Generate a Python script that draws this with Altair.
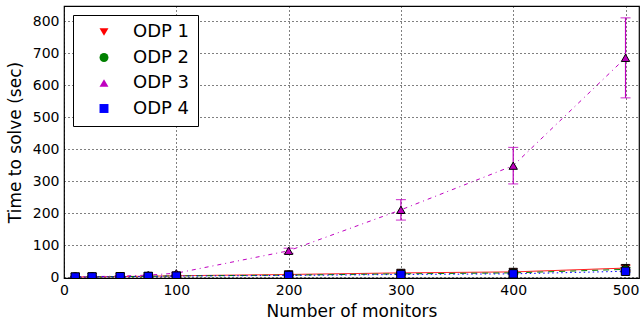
import altair as alt
import pandas as pd

monitors = [10, 25, 50, 75, 100, 200, 300, 400, 500]
series = ["ODP 1", "ODP 2", "ODP 3", "ODP 4"]
odp1 = [0.3, 0.7, 1.5, 2.5, 4.0, 8.0, 13.0, 16.0, 28.0]
odp1_err = [0.1, 0.2, 0.4, 0.6, 1.0, 1.5, 2.5, 3.0, 9.0]
odp2 = [0.3, 0.6, 1.3, 2.2, 3.5, 6.0, 10.0, 13.0, 24.0]
odp2_err = [0.1, 0.2, 0.3, 0.5, 0.8, 1.2, 2.0, 2.5, 6.0]
odp3 = [0.5, 1.2, 3.0, 6.0, 12.0, 82.0, 210.0, 348.0, 685.0]
odp3_err = [0.2, 0.5, 1.0, 2.0, 3.0, 8.0, 32.0, 57.0, 125.0]
odp4 = [0.2, 0.5, 1.0, 2.0, 3.0, 5.0, 8.0, 10.0, 18.0]
odp4_err = [0.1, 0.1, 0.3, 0.4, 0.6, 1.0, 1.5, 2.0, 4.0]
x_ticks = [0, 100, 200, 300, 400, 500]
y_ticks = [0, 100, 200, 300, 400, 500, 600, 700, 800]

vals = [odp1, odp2, odp3, odp4]
errs = [odp1_err, odp2_err, odp3_err, odp4_err]
rows = []
for si, (s, v, e) in enumerate(zip(series, vals, errs)):
    for m, y, err in zip(monitors, v, e):
        rows.append({"series": s, "order": si, "monitors": m, "time": y,
                     "lo": y - err, "hi": y + err})
df = pd.DataFrame(rows)

colors = ["#ff0000", "#008000", "#bf00bf", "#0000ff"]
shapes = ["triangle-down", "circle", "triangle-up", "square"]
dashes = [[1, 0], [6, 5], [4, 4, 1, 4], [1.5, 3]]

xs = alt.Scale(domain=[0, 512], nice=False, zero=False)
ys = alt.Scale(domain=[-3, 847], nice=False, zero=False)
cs = alt.Scale(domain=series, range=colors)
xaxis = alt.Axis(values=x_ticks, labelOverlap=False, labelFlush=False)
yaxis = alt.Axis(values=y_ticks, labelOverlap=False, labelFlush=False)


def X(f):
    return alt.X(f, scale=xs, title="Number of monitors", axis=xaxis)


def Y(f):
    return alt.Y(f, scale=ys, title="Time to solve (sec)", axis=yaxis)


layers = []
for si, s in enumerate(series):
    d = df[df.series == s]
    base = alt.Chart(d)
    line = base.mark_line(strokeWidth=1, strokeDash=dashes[si], color=colors[si], clip=True).encode(
        x=X("monitors:Q"), y=Y("time:Q"))
    rule = base.mark_rule(strokeWidth=1.2, color=colors[si], clip=True).encode(
        x=X("monitors:Q"), y=Y("lo:Q"), y2="hi:Q")
    cap_lo = base.mark_tick(thickness=1.2, size=10, color=colors[si], orient="horizontal", clip=True).encode(
        x=X("monitors:Q"), y=Y("lo:Q"))
    cap_hi = base.mark_tick(thickness=1.2, size=10, color=colors[si], orient="horizontal", clip=True).encode(
        x=X("monitors:Q"), y=Y("hi:Q"))
    pts = base.mark_point(filled=True, size=70, stroke="black", strokeWidth=1, opacity=1, clip=True).encode(
        x=X("monitors:Q"), y=Y("time:Q"),
        fill=alt.Fill("series:N", scale=cs, title=None,
                      legend=alt.Legend(orient="top-left", offset=9,
                                        symbolStrokeColor="black", symbolStrokeWidth=1)),
        shape=alt.Shape("series:N", scale=alt.Scale(domain=series, range=shapes), title=None),
    )
    layers += [line, rule, cap_lo, cap_hi, pts]

chart = alt.layer(*layers).properties(
    width=575, height=272,
    autosize=alt.AutoSizeParams(type="none"),
    padding={"left": 64, "top": 6, "right": 5, "bottom": 51},
).configure_view(stroke="black", strokeWidth=1.2).configure_axis(
    grid=True, gridColor="black", gridDash=[1, 3], gridOpacity=1, gridWidth=1,
    domain=False, ticks=False, labelPadding=5,
    labelFont="DejaVu Sans", labelFontSize=14, labelColor="black",
    titleFont="DejaVu Sans", titleFontSize=17, titleFontWeight="normal", titleColor="black",
).configure_axisX(titlePadding=6).configure_axisY(titlePadding=8).configure_legend(
    strokeColor="black", fillColor="white", padding=8, cornerRadius=0,
    labelFont="DejaVu Sans", labelFontSize=18, labelColor="black",
    symbolSize=80, symbolStrokeColor="black", symbolStrokeWidth=1, symbolOffset=14,
    labelOffset=20, rowPadding=7.5, symbolOpacity=1,
)

chart.save("out.html", embed_options={"renderer": "svg", "actions": False})
